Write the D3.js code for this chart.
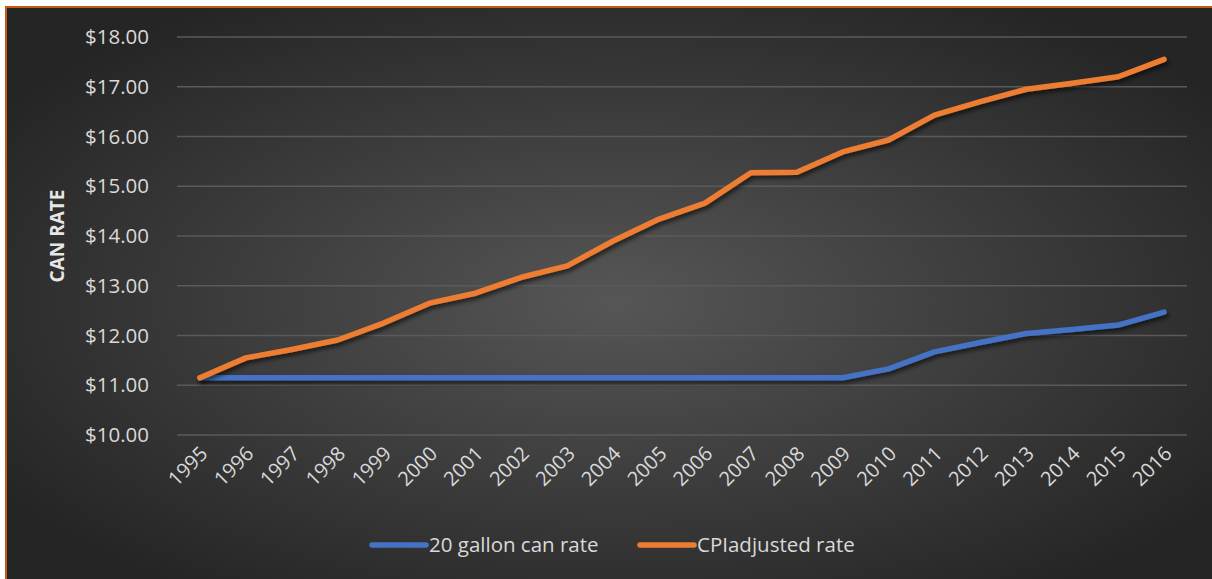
<!DOCTYPE html>
<html>
<head>
<meta charset="utf-8">
<script src="https://cdn.jsdelivr.net/npm/d3@7"></script>
<style>
  body { margin: 0; background: #fff; }
  svg { display: block; }
  text { font-family: "Open Sans", "Liberation Sans", sans-serif; }
</style>
</head>
<body>
<div id="chart"></div>
<script>
const width = 1212;
const height = 579;

// data
const years = ["1995","1996","1997","1998","1999","2000","2001","2002","2003","2004","2005",
    "2006","2007","2008","2009","2010","2011","2012","2013","2014","2015","2016"];
const canRate = [11.15,11.15,11.15,11.15,11.15,11.15,11.15,11.15,11.15,11.15,11.15,
    11.15,11.15,11.15,11.15,11.33,11.67,11.86,12.04,12.12,12.21,12.47];
const cpiRate = [11.15,11.55,11.72,11.91,12.25,12.65,12.85,13.17,13.40,13.90,14.34,
    14.66,15.27,15.28,15.69,15.93,16.43,16.70,16.95,17.07,17.20,17.55];
const yTicks = [10,11,12,13,14,15,16,17,18];
const seriesNames = ["20 gallon can rate", "CPIadjusted rate"];
const colors = ["#4472c4", "#ed7d31"];

const svg = d3.select("#chart")
    .append("svg")
    .attr("width", width)
    .attr("height", height);

const defs = svg.append("defs");
const grad = defs.append("radialGradient")
    .attr("id", "bg")
    .attr("cx", "50%").attr("cy", "50%").attr("r", "60%");
grad.append("stop").attr("offset", "0%").attr("stop-color", "#565656");
grad.append("stop").attr("offset", "100%").attr("stop-color", "#252525");

const shadow = defs.append("filter").attr("id", "shadow")
    .attr("x", "-5%").attr("y", "-5%").attr("width", "110%").attr("height", "120%");
shadow.append("feDropShadow")
    .attr("dx", 2).attr("dy", 3).attr("stdDeviation", 2)
    .attr("flood-color", "#000").attr("flood-opacity", 0.6);

// background + orange frame
svg.append("rect")
    .attr("x", 6)
    .attr("y", 7)
    .attr("width", width + 10)
    .attr("height", height + 10)
    .attr("fill", "url(#bg)")
    .attr("stroke", "#c55a11")
    .attr("stroke-width", 2);

const margin = {left: 177, right: 25, top: 37, bottom: 144};

const x = d3.scaleBand()
    .domain(years)
    .range([margin.left, width - margin.right]);

const y = d3.scaleLinear()
    .domain([10, 18])
    .range([height - margin.bottom, margin.top]);

// gridlines
svg.append("g")
    .selectAll("line")
    .data(yTicks)
    .join("line")
    .attr("x1", margin.left)
    .attr("x2", width - margin.right)
    .attr("y1", d => y(d))
    .attr("y2", d => y(d))
    .attr("stroke", "#5a5a5a")
    .attr("stroke-width", 1.5);

// y labels
svg.append("g")
    .selectAll("text")
    .data(yTicks)
    .join("text")
    .attr("x", 149)
    .attr("y", d => y(d))
    .attr("dy", "0.35em")
    .attr("text-anchor", "end")
    .attr("fill", "#d9d9d9")
    .attr("font-size", 20.5)
    .text(d => "$" + d.toFixed(2));

// x labels rotated
svg.append("g")
    .selectAll("text")
    .data(years)
    .join("text")
    .attr("text-anchor", "end")
    .attr("fill", "#d9d9d9")
    .attr("font-size", 20)
    .attr("transform", d => `translate(${x(d) + x.bandwidth() / 2 + 9},${height - margin.bottom + 20})rotate(-45)`)
    .text(d => d);

// axis title
svg.append("text")
    .attr("transform", `translate(64,${(margin.top + height - margin.bottom) / 2})rotate(-90)`)
    .attr("text-anchor", "middle")
    .attr("fill", "#e6e6e6")
    .attr("font-size", 19)
    .attr("font-weight", "bold")
    .text("CAN RATE");

const line = d3.line()
    .x((d, i) => x(years[i]) + x.bandwidth() / 2)
    .y(d => y(d));

[canRate, cpiRate].forEach((s, k) => {
    svg.append("path")
        .datum(s)
        .attr("d", line)
        .attr("fill", "none")
        .attr("stroke", colors[k])
        .attr("stroke-width", 5.5)
        .attr("stroke-linecap", "round")
        .attr("stroke-linejoin", "round")
        .attr("filter", "url(#shadow)");
});

// legend
const legendX = [372, 640];
const legend = svg.append("g")
    .selectAll("g")
    .data(seriesNames)
    .join("g")
    .attr("transform", (d, i) => `translate(${legendX[i]},545)`);

legend.append("line")
    .attr("x1", 0).attr("x2", 54)
    .attr("stroke", (d, i) => colors[i])
    .attr("stroke-width", 5.5)
    .attr("stroke-linecap", "round");

legend.append("text")
    .attr("x", 57)
    .attr("dy", "0.35em")
    .attr("fill", "#d9d9d9")
    .attr("font-size", 20.5)
    .text(d => d);
</script>
</body>
</html>
